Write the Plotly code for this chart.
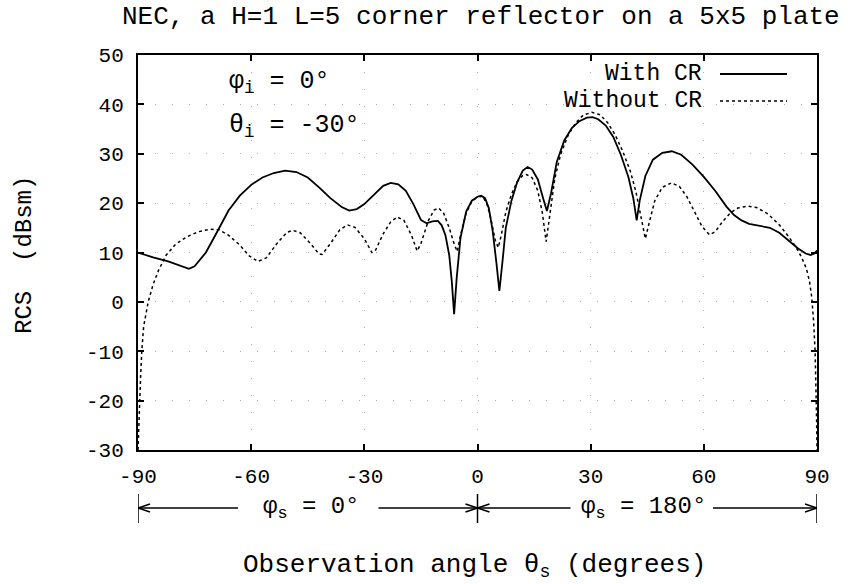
import plotly.graph_objects as go

# ---- data ----
theta_with = [-90, -86, -82, -78, -76.5, -75, -72, -69, -66, -63, -60, -57, -54, -51, -48, -45, -42, -39, -36, -34,
              -32, -30, -27, -25, -23, -21, -19, -17, -15, -13.5, -12, -10.5, -9.5, -8.5, -7.5, -6.8, -6.2, -5.5,
              -4.5, -3, -1.5, 0, 1, 2, 3, 4, 5, 5.8, 6.6, 7.5, 9, 10.5, 12, 13.3, 14.5, 16, 17.2, 18.4, 19.5, 21,
              23, 25, 27, 29, 30.5, 32, 34, 36, 38, 40, 41.3, 42.2, 43, 44.5, 46.5, 49, 51.5, 54, 57, 60, 63, 66,
              68, 70, 72, 75, 77.5, 80, 82.5, 85, 87, 88.3, 89.3, 90]
rcs_with = [10, 9.0, 8.2, 7.0, 6.7, 7.2, 10.0, 14.2, 18.5, 21.5, 23.7, 25.2, 26.1, 26.6, 26.3, 25.2, 23.2, 21, 19.2,
            18.5, 18.8, 19.8, 22, 23.5, 24.1, 23.8, 22.5, 19.8, 16.6, 15.9, 16.3, 16.4, 15.5, 13.5, 9.5, 4, -2.5,
            5, 13, 18.3, 20.5, 21.3, 21.5, 21, 19, 14.5, 8, 2.2, 8, 15, 20.5, 24.2, 26.6, 27.3, 26.8, 24.8, 21.5,
            18.4, 22, 28.3, 32.7, 35.2, 36.6, 37.3, 37.4, 37, 35.7, 33.4, 29.8, 25.3, 21, 16.5, 20.5, 25.5, 28.8,
            30.2, 30.5, 29.8, 27.8, 25.3, 22.5, 19.3, 17.6, 16.5, 15.8, 15.4, 15, 14, 12.4, 10.8, 9.8, 9.5, 9.8,
            10.4]

theta_without = [-90, -89.8, -89.6, -89.3, -89.0, -88.5, -87.3, -86, -84.5, -82.5, -80, -77, -74, -71, -68.5, -66,
                 -63, -60.5, -58.2, -56, -53, -50.5, -49, -47, -44.5, -42, -41.2, -39, -36.5, -34.5, -32.5, -30,
                 -28, -27, -25, -23, -21.3, -19.5, -17.5, -16, -15, -13, -11.5, -10.3, -9, -7.5, -6.3, -5.4, -4.5,
                 -3, -1.5, 0.2, 1.5, 2.5, 3.5, 4.7, 5.5, 6.3, 7.5, 9, 10.5, 12, 13, 14.5, 16, 17.2, 18.2, 19.2,
                 20.5, 22, 24, 26, 28, 30.3, 32.5, 34.5, 36.5, 38.5, 40.5, 42, 43.3, 44.5, 45.5, 47, 49, 51.4,
                 53.5, 55.5, 57.5, 59.5, 61.5, 63, 65, 67, 69, 71.5, 74, 77, 80, 82.5, 84.5, 86, 87.2, 88, 88.6,
                 89.1, 89.5, 89.75, 89.9, 90]
rcs_without = [-30, -25, -20, -15, -10, -5, 0, 3.5, 6.5, 9.5, 11.7, 13.2, 14.2, 14.7, 14.6, 13.5, 11.5, 9.3, 8.2,
               8.9, 12, 14.1, 14.5, 14, 12, 9.7, 9.6, 11.8, 14.6, 15.6, 15.1, 12.8, 10, 10.5, 13.8, 16.2, 17.2,
               16.5, 13.5, 10.3, 11.8, 16.5, 18.6, 19, 18, 15, 12, 10.2, 13.5, 18, 20.3, 21.4, 21.2, 19.8, 17,
               12.5, 11, 13.5, 18.2, 21.8, 24.3, 25.6, 25.8, 25.1, 22.5, 18, 12.2, 17.5, 25, 29.8, 33.7, 36.2,
               37.8, 38.4, 37.9, 36.3, 33.8, 30.5, 26.5, 22.3, 17.5, 12.8, 16, 20.5, 23.2, 24.1, 23.4, 21.3, 18.3,
               15.3, 13.6, 14.2, 16.3, 18, 19, 19.4, 19.1, 17.8, 15.6, 13.2, 11, 8.9, 6.7, 4.2, 1, -4, -10, -17,
               -24, -30]

x_ticks = [-90, -60, -30, 0, 30, 60, 90]
y_ticks = [50, 40, 30, 20, 10, 0, -10, -20, -30]
y_tick_text = ["50", "40", "30", "20", "10", "0", "-10", "-20", "-30"]
sector_bounds = [-90, 0, 90]

FONT = "Liberation Mono, DejaVu Sans Mono, monospace"

fig = go.Figure()
fig.add_trace(go.Scatter(x=theta_with, y=rcs_with, mode="lines", name="With CR",
                         line=dict(color="black", width=1.8)))
fig.add_trace(go.Scatter(x=theta_without, y=rcs_without, mode="lines", name="Without CR",
                         line=dict(color="black", width=1.5, dash="3px,3px")))

axis_common = dict(showline=True, linecolor="black", linewidth=2, mirror="ticks", ticks="inside",
                   ticklen=6, tickwidth=1.5, tickcolor="black", showgrid=True, gridcolor="#b0b0b0",
                   griddash="1px,16px", gridwidth=1, zeroline=False,
                   tickfont=dict(family=FONT, size=21, color="black"))

fig.update_xaxes(range=[-90, 90], tickvals=x_ticks, ticktext=[str(v) for v in x_ticks],
                 ticklabelstandoff=6, **axis_common)
fig.update_yaxes(range=[-30, 50], tickvals=y_ticks, ticktext=y_tick_text,
                 ticklabelstandoff=8, **axis_common)

ann = []
# title
ann.append(dict(text="NEC, a H=1 L=5 corner reflector on a 5x5 plate", xref="paper", yref="paper",
                x=0.505, y=(450 - 17) / 395, xanchor="center", yanchor="middle", showarrow=False,
                font=dict(family=FONT, size=26, color="black")))
# axis titles
ann.append(dict(text="Observation angle θ<sub>s</sub> (degrees)", xref="paper", yref="paper",
                x=0.495, y=(450 - 566) / 395, xanchor="center", yanchor="middle", showarrow=False,
                font=dict(family=FONT, size=26, color="black")))
ann.append(dict(text="RCS  (dBsm)", xref="paper", yref="paper", textangle=-90,
                x=(24 - 138) / 679, y=(450 - 255) / 395, xanchor="center", yanchor="middle",
                showarrow=False, font=dict(family=FONT, size=24, color="black")))
# incidence labels
ann.append(dict(text="φ<sub>i</sub> = 0°", xref="paper", yref="paper", x=(227 - 138) / 679,
                y=(450 - 82) / 395, xanchor="left", yanchor="middle", showarrow=False,
                font=dict(family=FONT, size=25, color="black")))
ann.append(dict(text="θ<sub>i</sub> = -30°", xref="paper", yref="paper", x=(227 - 138) / 679,
                y=(450 - 127) / 395, xanchor="left", yanchor="middle", showarrow=False,
                font=dict(family=FONT, size=25, color="black")))
# legend (gnuplot style)
for label, yp in (("With CR", 74), ("Without CR", 101)):
    ann.append(dict(text=label, xref="paper", yref="paper", x=(704 - 138) / 679, y=(450 - yp) / 395,
                    xanchor="right", yanchor="middle", showarrow=False,
                    font=dict(family=FONT, size=23, color="black")))

shapes = []
shapes.append(dict(type="line", xref="paper", yref="paper", x0=(720 - 138) / 679, x1=(787 - 138) / 679,
                   y0=(450 - 74) / 395, y1=(450 - 74) / 395, line=dict(color="black", width=1.8)))
shapes.append(dict(type="line", xref="paper", yref="paper", x0=(720 - 138) / 679, x1=(787 - 138) / 679,
                   y0=(450 - 101) / 395, y1=(450 - 101) / 395,
                   line=dict(color="black", width=1.5, dash="3px,3px")))

# sector bars below the axis
for xb in sector_bounds:
    shapes.append(dict(type="line", xref="x", yref="paper", x0=xb, x1=xb,
                       y0=(450 - 494) / 395, y1=(450 - 523) / 395, line=dict(color="black", width=1.5)))

# arrows (head at a sector bound, tail offset in pixels), drawn as line shapes
ya = (450 - 508) / 395
arrows = [(-90, 100), (0, -99), (0, 93), (90, -104)]
for head, off in arrows:
    sgn = 1 if off > 0 else -1
    seg = dict(type="line", xref="x", yref="paper", xsizemode="pixel", ysizemode="pixel",
               xanchor=head, yanchor=ya, line=dict(color="black", width=1.5))
    shapes.append(dict(seg, x0=0, x1=off, y0=0, y1=0))
    shapes.append(dict(seg, x0=0, x1=sgn * 12, y0=0, y1=4))
    shapes.append(dict(seg, x0=0, x1=sgn * 12, y0=0, y1=-4))

ann.append(dict(text="φ<sub>s</sub> = 0°", xref="paper", yref="paper", x=(311 - 138) / 679, y=ya,
                xanchor="center", yanchor="middle", showarrow=False,
                font=dict(family=FONT, size=24, color="black")))
ann.append(dict(text="φ<sub>s</sub> = 180°", xref="paper", yref="paper", x=(643 - 138) / 679, y=ya,
                xanchor="center", yanchor="middle", showarrow=False,
                font=dict(family=FONT, size=24, color="black")))

fig.update_layout(width=850, height=584, margin=dict(l=138, r=33, t=55, b=134),
                  paper_bgcolor="white", plot_bgcolor="white", showlegend=False,
                  annotations=ann, shapes=shapes)

fig.write_html("out.html")
